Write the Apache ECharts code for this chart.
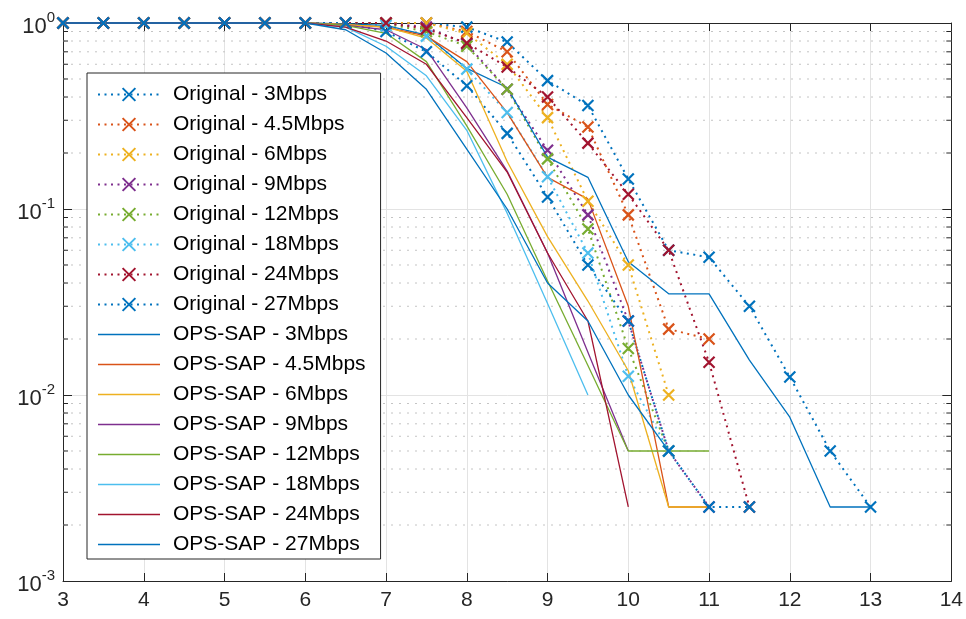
<!DOCTYPE html>
<html>
<head>
    <meta charset="utf-8">
    <title>PER</title>
    <script src="https://cdn.jsdelivr.net/npm/echarts@6/dist/echarts.min.js"></script>
    <style>
        html, body { margin: 0; padding: 0; background: #fff; }
    </style>
</head>
<body>
    <div id="main" style="width:966px;height:619px;"></div>
    <script type="text/javascript">
        // x positions (dB) shared by every curve, values start at x = 3
        var snr = [3, 3.5, 4, 4.5, 5, 5.5, 6, 6.5, 7, 7.5, 8, 8.5, 9, 9.5, 10, 10.5, 11, 11.5, 12, 12.5, 13];

        var rates = ['3Mbps', '4.5Mbps', '6Mbps', '9Mbps', '12Mbps', '18Mbps', '24Mbps', '27Mbps'];

        // Original (dotted, x markers)
        var orig3  = [1, 1, 1, 1, 1, 1, 1, 1, 1, 1, 0.95, 0.79, 0.49, 0.36, 0.145, 0.06, 0.055, 0.030, 0.0125, 0.005, 0.0025];
        var orig45 = [1, 1, 1, 1, 1, 1, 1, 1, 1, 1, 0.90, 0.70, 0.365, 0.276, 0.093, 0.0226, 0.020];
        var orig6  = [1, 1, 1, 1, 1, 1, 1, 1, 1, 1, 0.88, 0.60, 0.31, 0.11, 0.05, 0.01];
        var orig9  = [1, 1, 1, 1, 1, 1, 1, 1, 1, 0.95, 0.77, 0.44, 0.207, 0.093, 0.025, 0.005, 0.0025];
        var orig12 = [1, 1, 1, 1, 1, 1, 1, 1, 0.99, 0.90, 0.75, 0.44, 0.186, 0.078, 0.0178, 0.005];
        var orig18 = [1, 1, 1, 1, 1, 1, 1, 1, 0.97, 0.85, 0.565, 0.33, 0.149, 0.058, 0.0126, 0.005];
        var orig24 = [1, 1, 1, 1, 1, 1, 1, 1, 1, 0.93, 0.78, 0.58, 0.40, 0.226, 0.12, 0.06, 0.015, 0.0025];
        var orig27 = [1, 1, 1, 1, 1, 1, 1, 1, 0.90, 0.70, 0.46, 0.255, 0.116, 0.050, 0.025, 0.005, 0.0025, 0.0025];

        // OPS-SAP (solid)
        var ops3  = [1, 1, 1, 1, 1, 1, 1, 0.99, 0.97, 0.86, 0.57, 0.45, 0.19, 0.148, 0.052, 0.035, 0.035, 0.0154, 0.0076, 0.0025, 0.0025];
        var ops45 = [1, 1, 1, 1, 1, 1, 1, 0.98, 0.95, 0.85, 0.62, 0.33, 0.148, 0.113, 0.030, 0.0025, 0.0025];
        var ops6  = [1, 1, 1, 1, 1, 1, 1, 0.98, 0.95, 0.83, 0.55, 0.18, 0.071, 0.032, 0.0135, 0.0025, 0.0025];
        var ops9  = [1, 1, 1, 1, 1, 1, 1, 0.97, 0.92, 0.72, 0.35, 0.16, 0.058, 0.017, 0.005];
        var ops12 = [1, 1, 1, 1, 1, 1, 1, 0.97, 0.88, 0.62, 0.28, 0.12, 0.041, 0.0144, 0.005, 0.005, 0.005];
        var ops18 = [1, 1, 1, 1, 1, 1, 1, 0.95, 0.75, 0.52, 0.265, 0.095, 0.031, 0.010];
        var ops24 = [1, 1, 1, 1, 1, 1, 1, 0.95, 0.80, 0.60, 0.31, 0.158, 0.058, 0.025, 0.0025];
        var ops27 = [1, 1, 1, 1, 1, 1, 1, 0.92, 0.69, 0.44, 0.21, 0.10, 0.040, 0.025, 0.010, 0.005];

        var xTicks = [3, 4, 5, 6, 7, 8, 9, 10, 11, 12, 13, 14];
        // minor log grid lines
        var minorTicks = [0.002, 0.003, 0.004, 0.005, 0.006, 0.007, 0.008, 0.009,
                          0.02, 0.03, 0.04, 0.05, 0.06, 0.07, 0.08, 0.09,
                          0.2, 0.3, 0.4, 0.5, 0.6, 0.7, 0.8, 0.9];

        var colors = ['#0072BD', '#D95319', '#EDB120', '#7E2F8E', '#77AC30', '#4DBEEE', '#A2142F', '#0072BD'];
        var origSets = [orig3, orig45, orig6, orig9, orig12, orig18, orig24, orig27];
        var opsSets = [ops3, ops45, ops6, ops9, ops12, ops18, ops24, ops27];

        var font = 'Liberation Sans, Arial, Helvetica, sans-serif';
        var crossPath = 'path://M0,0L10,10M10,0L0,10';
        // thin bar used as legend icon for the solid curves
        var solidIcon = 'path://M0,0L62,0L62,1.4L0,1.4Z';

        function pairs(vals) {
            var out = [];
            for (var i = 0; i < vals.length; i++) out.push([snr[i], vals[i]]);
            return out;
        }

        var series = [];
        var legendItems = [];

        // minor grid + minor ticks drawn through the axes
        series.push({
            type: 'custom',
            name: 'minor',
            z: 1,
            silent: true,
            clip: false,
            data: minorTicks.map(function (v) { return [3, v]; }),
            encode: { x: 0, y: 1 },
            renderItem: function (params, api) {
                var v = api.value(1);
                var a = api.coord([3, v]);
                var b = api.coord([14, v]);
                return {
                    type: 'group',
                    children: [
                        { type: 'line', shape: { x1: a[0], y1: a[1], x2: b[0], y2: b[1] },
                          style: { stroke: '#c4c4c4', lineWidth: 1, lineDash: [2, 6] } },
                        { type: 'line', shape: { x1: a[0], y1: a[1], x2: a[0] + 5, y2: a[1] },
                          style: { stroke: '#262626', lineWidth: 1 } },
                        { type: 'line', shape: { x1: b[0] - 5, y1: b[1], x2: b[0], y2: b[1] },
                          style: { stroke: '#262626', lineWidth: 1 } }
                    ]
                };
            }
        });

        for (var i = 0; i < rates.length; i++) {
            var n = 'Original - ' + rates[i];
            legendItems.push({ name: n });
            series.push({
                name: n,
                type: 'line',
                clip: false,
                data: pairs(origSets[i]),
                symbol: crossPath,
                symbolSize: 11,
                showAllSymbol: true,
                color: colors[i],
                itemStyle: { color: colors[i], borderColor: colors[i], borderWidth: 2.2 },
                lineStyle: { color: colors[i], width: 2, type: [2, 4.5] },
                animation: false
            });
        }
        for (var j = 0; j < rates.length; j++) {
            var m = 'OPS-SAP - ' + rates[j];
            legendItems.push({ name: m, icon: solidIcon });
            series.push({
                name: m,
                type: 'line',
                clip: false,
                data: pairs(opsSets[j]),
                symbol: 'none',
                color: colors[j],
                lineStyle: { color: colors[j], width: 1.3 },
                animation: false
            });
        }

        var myChart = echarts.init(document.getElementById('main'));

        var option = {
            animation: false,
            backgroundColor: '#fff',
            grid: { left: 63, right: 12, top: 23, bottom: 38 },
            legend: {
                data: legendItems,
                orient: 'vertical',
                left: 87,
                top: 73,
                padding: [11, 15, 4, 10],
                itemWidth: 62,
                itemHeight: 16,
                itemGap: 9,
                symbolKeepAspect: true,
                backgroundColor: '#fff',
                borderColor: '#262626',
                borderWidth: 1,
                borderRadius: 0,
                textStyle: { fontFamily: font, fontSize: 21, lineHeight: 20, color: '#000', padding: [0, 0, 0, 8] }
            },
            xAxis: [{
                type: 'value',
                min: xTicks[0],
                max: xTicks[xTicks.length - 1],
                interval: 1,
                axisLine: { lineStyle: { color: '#262626', width: 1 } },
                axisTick: { inside: true, length: 8, lineStyle: { color: '#262626' } },
                axisLabel: { fontFamily: font, fontSize: 21, color: '#262626', margin: 9 },
                splitLine: { show: true, lineStyle: { color: '#e3e3e3', width: 1 } }
            }, {
                type: 'value',
                position: 'top',
                min: xTicks[0],
                max: xTicks[xTicks.length - 1],
                interval: 1,
                axisLine: { show: true, lineStyle: { color: '#262626', width: 1 } },
                axisTick: { show: true, inside: true, length: 8, lineStyle: { color: '#262626' } },
                axisLabel: { show: false },
                splitLine: { show: false }
            }],
            yAxis: [{
                type: 'log',
                logBase: 10,
                min: 0.001,
                max: 1,
                splitNumber: 3,
                axisLine: { show: true, lineStyle: { color: '#262626', width: 1 } },
                axisTick: { show: true, inside: true, length: 9, lineStyle: { color: '#262626' } },
                axisLabel: {
                    margin: 8,
                    formatter: function (v) {
                        var e = Math.round(Math.log(v) / Math.LN10);
                        return '{b|10}{s|' + e + '}';
                    },
                    rich: {
                        b: { fontFamily: font, fontSize: 22, color: '#262626', lineHeight: 30, verticalAlign: 'bottom' },
                        s: { fontFamily: font, fontSize: 15, color: '#262626', lineHeight: 30, verticalAlign: 'bottom', padding: [0, 0, 13, 0] }
                    }
                },
                splitLine: { show: true, lineStyle: { color: '#e3e3e3', width: 1 } }
            }, {
                type: 'log',
                logBase: 10,
                min: 0.001,
                max: 1,
                splitNumber: 3,
                position: 'right',
                axisLine: { show: true, lineStyle: { color: '#262626', width: 1 } },
                axisTick: { show: true, inside: true, length: 9, lineStyle: { color: '#262626' } },
                axisLabel: { show: false },
                splitLine: { show: false }
            }],
            series: series
        };

        myChart.setOption(option);
    </script>
</body>
</html>
